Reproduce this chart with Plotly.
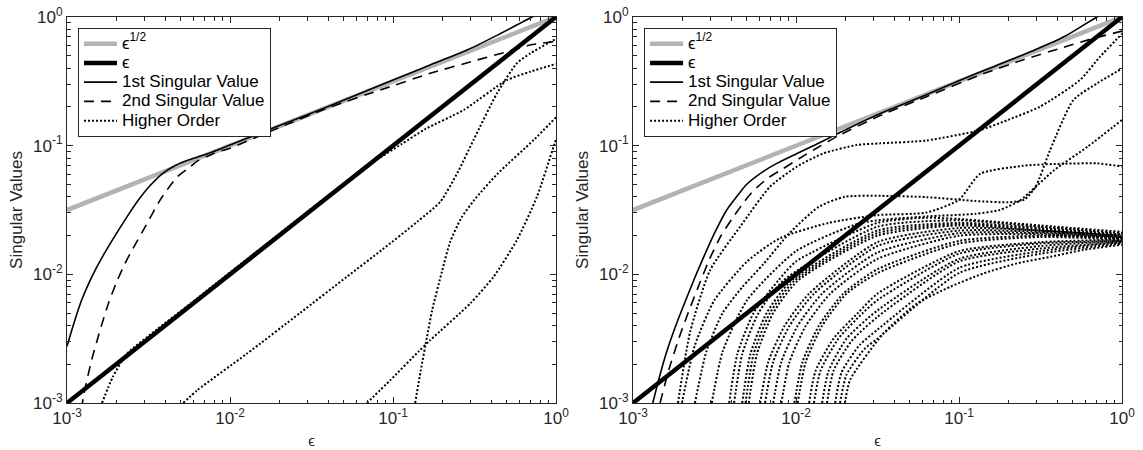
import numpy as np
import plotly.graph_objects as go

# ---------------- data (log10 units) ----------------
# reference lines
ref_sqrt_x = [1e-3, 1.0]
ref_sqrt_y = [0.0316, 1.0]
ref_eps_x = [1e-3, 1.0]
ref_eps_y = [1e-3, 1.0]

# ---- left panel ----
L_sv1_lx = [-3.0, -2.97, -2.94, -2.91, -2.87, -2.82, -2.767, -2.7, -2.63, -2.562, -2.49, -2.41, -2.33, -2.263,
            -2.18, -2.1, -2.0, -1.7, -1.386, -1.0, -0.772, -0.546, -0.35, -0.147, 0.0]
L_sv1_ly = [-2.56, -2.43, -2.31, -2.2, -2.08, -1.95, -1.83, -1.69, -1.55, -1.423, -1.31, -1.213, -1.15, -1.115,
            -1.08, -1.045, -0.995, -0.845, -0.69, -0.49, -0.373, -0.257, -0.135, 0.0, 0.09]
L_sv2_lx = [-2.91, -2.90, -2.849, -2.797, -2.746, -2.695, -2.644, -2.6, -2.52, -2.429, -2.325, -2.25, -2.2, -2.1,
            -2.0, -1.7, -1.386, -1.079, -0.772, -0.5, -0.301, -0.158, 0.0]
L_sv2_ly = [-3.05, -2.953, -2.667, -2.434, -2.226, -2.058, -1.915, -1.81, -1.63, -1.423, -1.244, -1.17, -1.12, -1.06,
            -1.02, -0.86, -0.70, -0.568, -0.438, -0.34, -0.27, -0.218, -0.19]
L_hi_lx = [
    [-2.785, -2.72, -2.634, -2.45, -2.2, -2.0, -1.7, -1.4, -1.263, -1.1, -0.95, -0.8, -0.567, -0.301, -0.158, 0.0],
    [-2.287, -2.2, -1.9, -1.57, -1.283, -1.068, -0.85, -0.71, -0.6, -0.506, -0.362, -0.24, -0.158, 0.0],
    [-1.16, -1.017, -0.843, -0.772, -0.526, -0.383, -0.24, -0.117, -0.015, 0.0],
    [-0.864, -0.83, -0.792, -0.76, -0.70, -0.65, -0.58, -0.5, -0.36, -0.137, 0.0],
]
L_hi_ly = [
    [-3.0, -2.8, -2.62, -2.43, -2.185, -1.985, -1.688, -1.39, -1.262, -1.11, -0.99, -0.87, -0.723, -0.49, -0.425, -0.365],
    [-3.0, -2.9, -2.62, -2.30, -2.019, -1.81, -1.59, -1.436, -1.2, -0.956, -0.593, -0.36, -0.283, -0.17],
    [-3.0, -2.823, -2.60, -2.512, -2.226, -2.019, -1.734, -1.397, -1.008, -0.95],
    [-3.0, -2.75, -2.49, -2.28, -1.98, -1.75, -1.56, -1.42, -1.22, -0.956, -0.78],
]

# ---- right panel ----
R_sv1_lx = [-2.879, -2.834, -2.793, -2.732, -2.67, -2.609, -2.568, -2.5, -2.425, -2.36, -2.302, -2.2, -2.118, -2.0,
            -1.893, -1.75, -1.5, -1.2, -1.0, -0.772, -0.546, -0.35, -0.153, 0.0]
R_sv1_ly = [-3.0, -2.78, -2.6, -2.38, -2.18, -1.99, -1.87, -1.68, -1.5, -1.39, -1.3, -1.2, -1.138, -1.065,
            -1.0, -0.91, -0.76, -0.605, -0.495, -0.378, -0.262, -0.15, 0.0, 0.09]
R_sv2_lx = [-2.834, -2.78, -2.711, -2.65, -2.588, -2.53, -2.46, -2.384, -2.32, -2.261, -2.17, -2.077, -1.98, -1.893,
            -1.75, -1.5, -1.2, -0.871, -0.6, -0.38, -0.175, 0.0]
R_sv2_ly = [-3.0, -2.74, -2.47, -2.26, -2.06, -1.88, -1.7, -1.553, -1.44, -1.35, -1.25, -1.177, -1.1, -1.034,
            -0.93, -0.775, -0.62, -0.451, -0.33, -0.244, -0.166, -0.11]
R_hi_lx = [
    [-2.724, -2.65, -2.527, -2.343, -2.16, -1.996, -1.832, -1.627, -1.484, -1.2, -0.871, -0.7, -0.503, -0.258, -0.135, 0.0],
    [-2.62, -2.55, -2.45, -2.33, -2.2, -2.04, -1.86, -1.70, -1.48, -1.2, -0.9, -0.7, -0.6, -0.53, -0.441, -0.298, -0.153, 0.0],
    [-2.70, -2.62, -2.5, -2.3, -2.1, -1.8, -1.5, -1.2, -1.0, -0.871, -0.606, -0.35, -0.153, 0.0],
    [-2.517, -2.45, -2.3, -2.0, -1.6, -1.2, -0.9, -0.75, -0.623, -0.416, -0.211, 0.0],
    # bundle
    [-2.41, -2.36, -2.26, -2.11, -2.0, -1.5, -1.2, -1.0, -0.5, 0.0],
    [-2.38, -2.33, -2.23, -2.08, -1.5, -1.0, -0.5, 0.0],
    [-2.33, -2.28, -2.18, -2.03, -1.5, -1.0, -0.5, 0.0],
    [-2.31, -2.26, -2.16, -2.01, -1.5, -1.0, -0.5, 0.0],
    [-2.29, -2.24, -2.14, -1.99, -1.5, -1.0, -0.5, 0.0],
    [-2.22, -2.17, -2.07, -1.92, -1.5, -1.0, -0.5, 0.0],
    [-2.19, -2.14, -2.04, -1.89, -1.5, -1.0, -0.5, 0.0],
    [-2.14, -2.09, -1.99, -1.84, -1.5, -1.0, -0.5, 0.0],
    [-2.09, -2.04, -1.94, -1.79, -1.5, -1.0, -0.5, 0.0],
    [-2.01, -1.96, -1.86, -1.71, -1.5, -1.0, -0.5, 0.0],
    [-1.99, -1.94, -1.84, -1.69, -1.5, -1.0, -0.5, 0.0],
    [-1.92, -1.88, -1.77, -1.62, -1.5, -1.0, -0.5, 0.0],
    [-1.89, -1.85, -1.74, -1.59, -1.5, -1.0, -0.5, 0.0],
    [-1.84, -1.80, -1.69, -1.5, -1.0, -0.5, 0.0],
    [-1.81, -1.77, -1.66, -1.5, -1.0, -0.5, 0.0],
    [-1.76, -1.72, -1.61, -1.5, -1.0, -0.5, 0.0],
    [-1.73, -1.69, -1.58, -1.5, -1.0, -0.5, 0.0],
    [-1.70, -1.668, -1.464, -1.258, -1.054, -0.85, -0.645, -0.44, -0.238, 0.0],
]
R_hi_ly = [
    [-3.0, -2.45, -1.967, -1.63, -1.32, -1.164, -1.06, -0.995, -0.982, -0.96, -0.879, -0.8, -0.697, -0.49, -0.309, -0.13],
    [-3.0, -2.6, -2.3, -2.1, -1.92, -1.68, -1.475, -1.397, -1.39, -1.40, -1.43, -1.44, -1.42, -1.32, -1.034, -0.645, -0.516, -0.40],
    [-3.0, -2.55, -2.2, -1.9, -1.72, -1.6, -1.54, -1.52, -1.42, -1.22, -1.156, -1.14, -1.138, -1.16],
    [-3.0, -2.6, -2.2, -1.82, -1.6, -1.55, -1.53, -1.5, -1.423, -1.19, -1.008, -0.80],
    # bundle
    [-3.0, -2.62, -2.3, -2.05, -1.9, -1.6, -1.56, -1.57, -1.62, -1.67],
    [-3.0, -2.62, -2.3, -2.05, -1.63, -1.58, -1.63, -1.68],
    [-3.0, -2.62, -2.3, -2.05, -1.66, -1.60, -1.64, -1.69],
    [-3.0, -2.62, -2.3, -2.05, -1.68, -1.61, -1.65, -1.69],
    [-3.0, -2.62, -2.3, -2.05, -1.70, -1.62, -1.66, -1.70],
    [-3.0, -2.68, -2.4, -2.15, -1.75, -1.64, -1.66, -1.70],
    [-3.0, -2.68, -2.4, -2.15, -1.78, -1.66, -1.67, -1.71],
    [-3.0, -2.68, -2.4, -2.15, -1.83, -1.68, -1.68, -1.71],
    [-3.0, -2.68, -2.4, -2.15, -1.88, -1.70, -1.69, -1.72],
    [-3.0, -2.68, -2.4, -2.15, -1.96, -1.74, -1.70, -1.72],
    [-3.0, -2.68, -2.4, -2.15, -1.99, -1.76, -1.71, -1.73],
    [-3.0, -2.75, -2.5, -2.3, -2.15, -1.82, -1.75, -1.73],
    [-3.0, -2.75, -2.5, -2.3, -2.2, -1.84, -1.76, -1.74],
    [-3.0, -2.75, -2.5, -2.28, -1.88, -1.78, -1.74],
    [-3.0, -2.75, -2.52, -2.33, -1.90, -1.80, -1.75],
    [-3.0, -2.76, -2.55, -2.43, -1.95, -1.82, -1.75],
    [-3.0, -2.78, -2.58, -2.5, -1.99, -1.84, -1.76],
    [-3.0, -2.82, -2.46, -2.227, -2.097, -1.993, -1.915, -1.864, -1.81, -1.77],
]

tick_vals = [1e-3, 1e-2, 1e-1, 1.0]
tick_text = ["10<sup>-3</sup>", "10<sup>-2</sup>", "10<sup>-1</sup>", "10<sup>0</sup>"]
legend_names = ["\u03f5<sup>1/2</sup>", "\u03f5", "1st Singular Value", "2nd Singular Value", "Higher Order"]

# ---------------- figure ----------------
FONT = "Liberation Sans, Arial, Helvetica, sans-serif"
AX = "#262626"
GRAY = "#b3b3b3"
LEG_TXT = '<span style="font-size:17px">{}</span>'

fig = go.Figure()


def p10(v):
    return np.power(10.0, np.asarray(v, dtype=float))


def add_panel(xa, ya, leg, sv1, sv2, hi_lx, hi_ly):
    common = dict(xaxis=xa, yaxis=ya, legend=leg, mode="lines", hoverinfo="skip")
    names = [LEG_TXT.format(n) for n in legend_names]
    fig.add_trace(go.Scatter(x=ref_sqrt_x, y=ref_sqrt_y, name=names[0],
                             line=dict(color=GRAY, width=4.5), **common))
    fig.add_trace(go.Scatter(x=ref_eps_x, y=ref_eps_y, name=names[1],
                             line=dict(color="black", width=4.5), **common))
    fig.add_trace(go.Scatter(x=p10(sv1[0]), y=p10(sv1[1]), name=names[2],
                             line=dict(color="black", width=1.6, shape="spline", smoothing=0.6), **common))
    fig.add_trace(go.Scatter(x=p10(sv2[0]), y=p10(sv2[1]), name=names[3],
                             line=dict(color="black", width=1.6, dash="10px,7px", shape="spline", smoothing=0.6),
                             **common))
    for i, (lx, ly) in enumerate(zip(hi_lx, hi_ly)):
        fig.add_trace(go.Scatter(x=p10(lx), y=p10(ly), name=names[4], showlegend=(i == 0),
                                 line=dict(color="black", width=2, dash="2px,2px", shape="spline", smoothing=0.6),
                                 **common))


add_panel("x", "y", "legend", (L_sv1_lx, L_sv1_ly), (L_sv2_lx, L_sv2_ly), L_hi_lx, L_hi_ly)
add_panel("x2", "y2", "legend2", (R_sv1_lx, R_sv1_ly), (R_sv2_lx, R_sv2_ly), R_hi_lx, R_hi_ly)

minor_vals = [m * 10.0 ** e for e in (-3, -2, -1) for m in range(2, 10)]


def axis(domain, anchor, title, standoff, tsize):
    return dict(
        type="log", range=[-3, 0], domain=domain, anchor=anchor,
        tickmode="array", tickvals=tick_vals, ticktext=tick_text,
        ticks="inside", ticklen=6, tickwidth=1, tickcolor=AX,
        minor=dict(tickmode="array", tickvals=minor_vals, ticks="inside", ticklen=3.5,
                   tickwidth=1, tickcolor=AX, showgrid=False),
        showline=True, linecolor=AX, linewidth=1, mirror="ticks",
        showgrid=False, zeroline=False,
        tickfont=dict(family=FONT, size=17, color=AX),
        title=dict(text=title, font=dict(family=FONT, size=tsize, color=AX), standoff=standoff),
    )


fig.update_layout(
    width=1143, height=450,
    margin=dict(l=67, r=21, t=17, b=47, autoexpand=False),
    paper_bgcolor="white", plot_bgcolor="white",
    font=dict(family=FONT, color=AX),
    xaxis=axis([0.0, 0.4635], "y", "\u03f5", 8, 15),
    xaxis2=axis([0.5365, 1.0], "y2", "\u03f5", 8, 15),
    yaxis=axis([0.0, 1.0], "x", "Singular Values", 6, 17),
    yaxis2=axis([0.0, 1.0], "x2", "Singular Values", 6, 17),
    showlegend=True,
)

leg_common = dict(yanchor="top", xanchor="left", y=0.9715, bgcolor="white",
                  bordercolor=AX, borderwidth=1, tracegroupgap=0, itemwidth=33,
                  font=dict(family=FONT, size=12.5, color="black"))
fig.update_layout(legend=dict(x=0.0104, **leg_common), legend2=dict(x=0.547, **leg_common))

fig.write_html("out.html")
